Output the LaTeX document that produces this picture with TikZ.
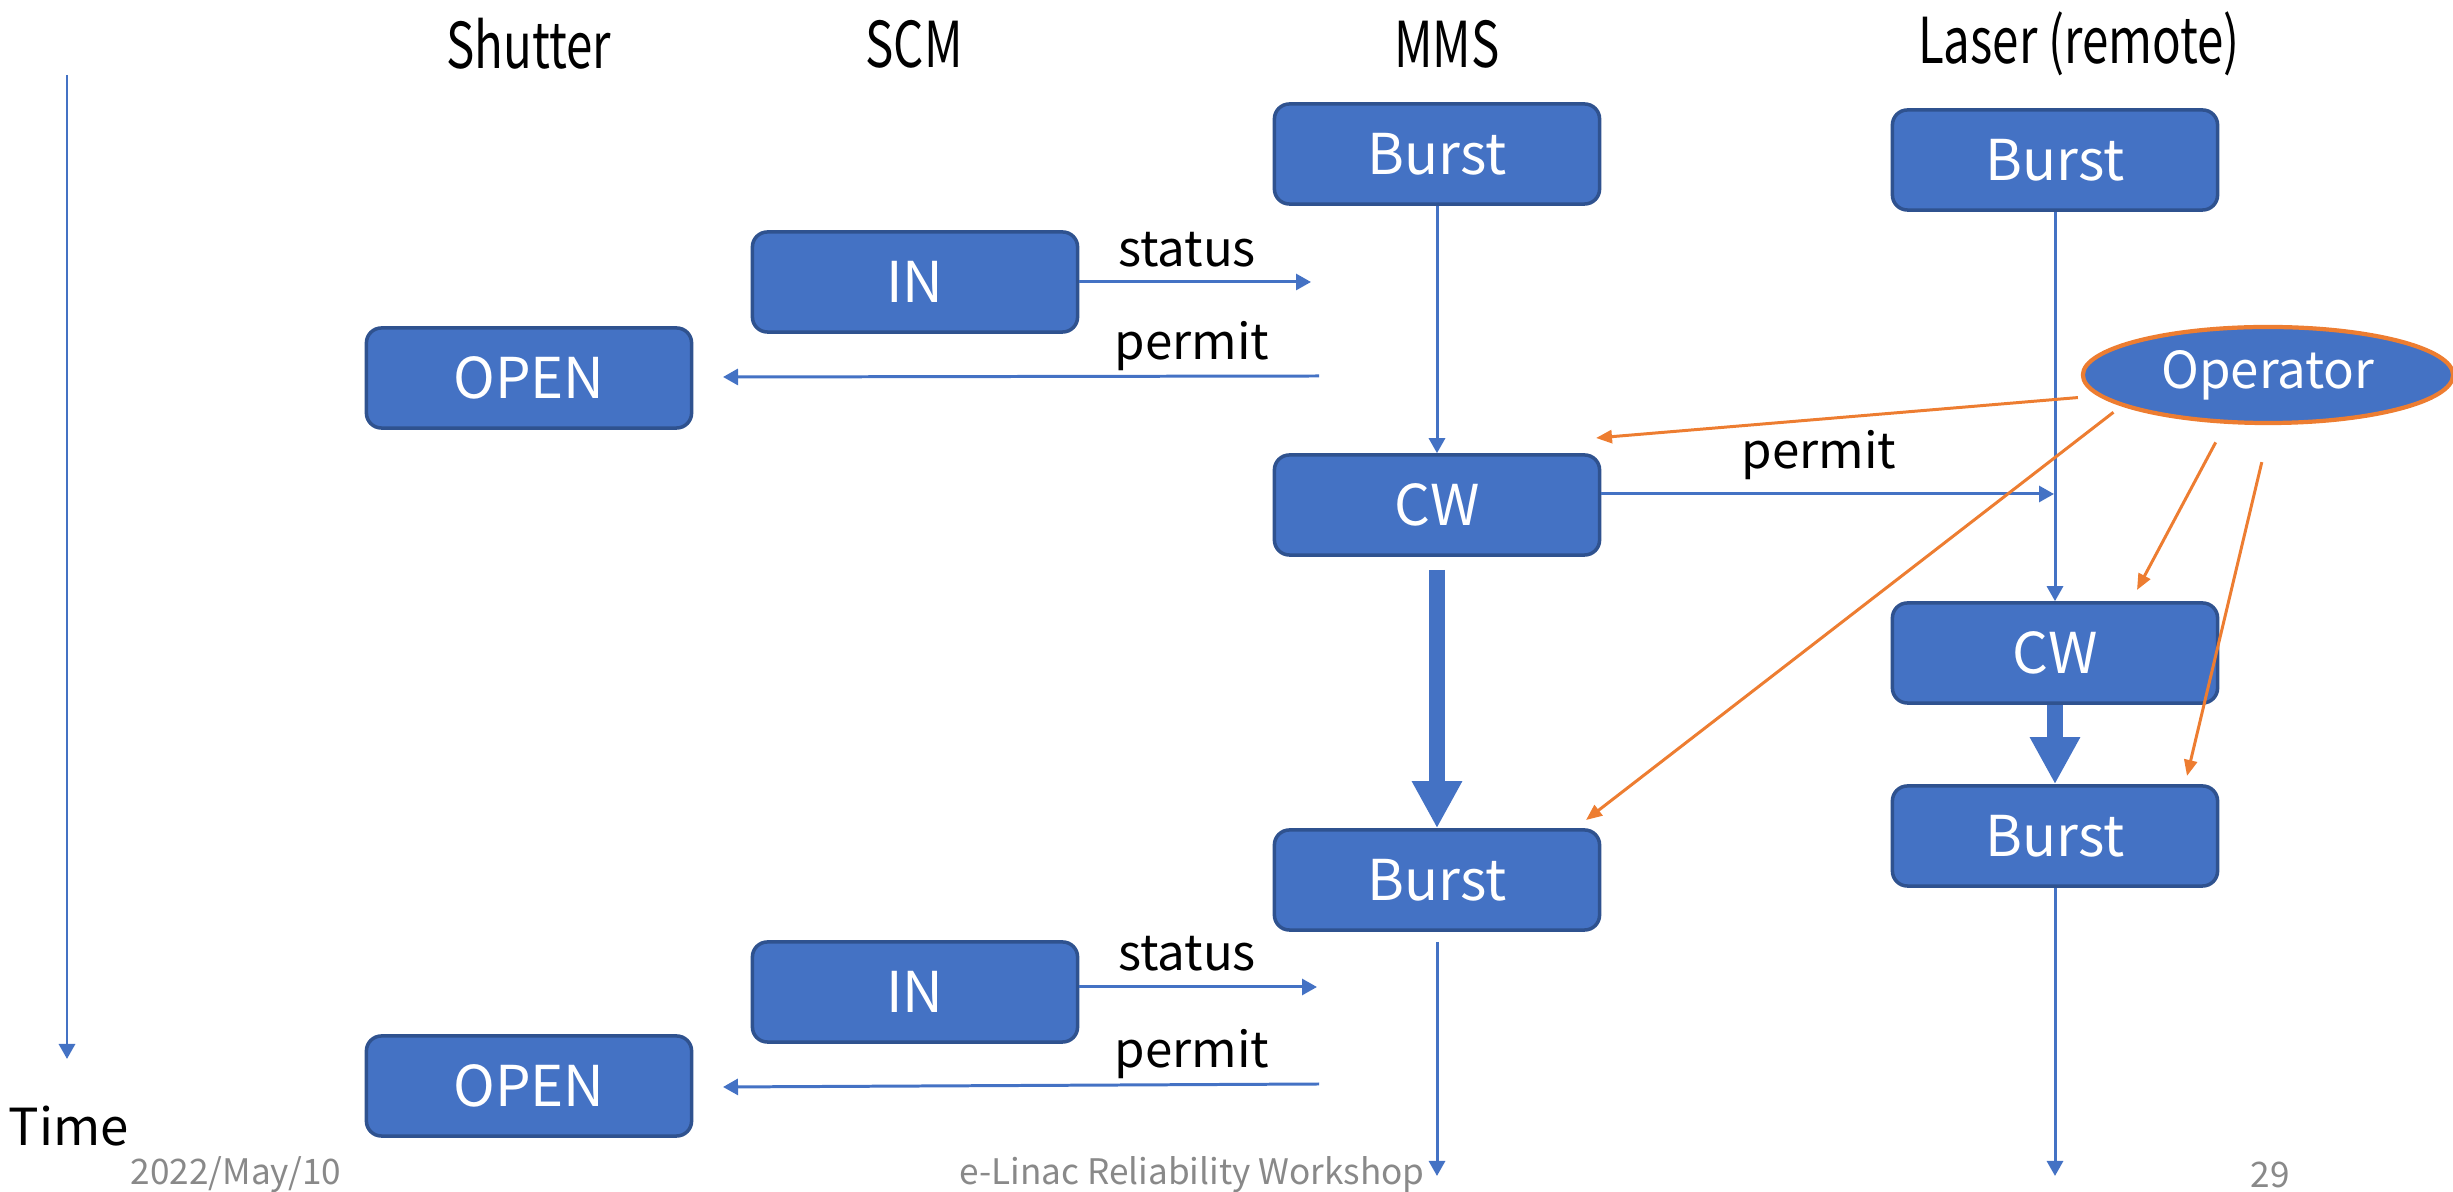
\documentclass[tikz,border=0pt]{standalone}
\usepackage{fontspec}
\setmainfont{Noto Sans CJK JP}
\usetikzlibrary{arrows.meta,shapes.geometric}
\definecolor{boxblue}{HTML}{4472C4}
\definecolor{boxedge}{HTML}{2F528F}
\definecolor{opline}{HTML}{ED7D31}
\definecolor{footgray}{HTML}{898989}
% narrow header lettering
\newcommand{\narrow}[1]{\scalebox{0.75}[1]{#1}}
\begin{document}
\begin{tikzpicture}[x=0.01cm, y=-0.01cm,
  state/.style={rectangle, draw=boxedge, line width=1pt, fill=boxblue,
                rounded corners=0.15cm, minimum width=3.25cm, minimum height=1cm,
                text=white, font=\fontsize{16}{18}\selectfont},
  oper/.style={ellipse, draw=opline, line width=1.2pt, fill=boxblue, inner sep=0pt,
               minimum width=3.7cm, minimum height=0.96cm,
               text=white, font=\fontsize{14.5}{17}\selectfont},
  head/.style={font=\fontsize{18}{20}\selectfont},
  lbl/.style={font=\fontsize{14}{17}\selectfont},
  foot/.style={text=footgray, font=\fontsize{10}{12}\selectfont},
  arr/.style={-{Triangle[length=0.15cm, width=0.16cm]}, line width=0.85pt, boxblue},
  oparr/.style={-{Triangle[length=0.16cm, width=0.13cm]}, line width=0.85pt, opline},
  fat/.style={-{Triangle[length=0.47cm, width=0.47cm]}, line width=0.16cm, boxblue}
]
  \useasboundingbox (0,0) rectangle (2453,1192);

  % column headers
  \foreach \n/\x/\t in {hsh/529/Shutter, hscm/914/SCM, hmms/1447/MMS, hlas/2079/Laser (remote)}
    \node[head] (\n) at (\x,44) {\narrow{\t}};

  % time axis
  \coordinate (t0) at (67,75);
  \coordinate (t1) at (67,1059);
  \draw[arr] (t0) -- (t1);
  \node[lbl, font=\fontsize{14.5}{17}\selectfont] (time) at (69,1126) {Time};

  % MMS
  \node[state] (burstA) at (1437,154) {Burst};
  \node[state] (cwA)    at (1437,505) {CW};
  \node[state] (burstB) at (1437,880) {Burst};
  \draw[arr] (burstA) -- (cwA);
  \draw[fat, shorten <=0.13cm] (cwA) -- (burstB);

  % laser (remote)
  \node[state] (lburstA) at (2055,160) {Burst};
  \node[state] (lcw)     at (2055,653) {CW};
  \node[state] (lburstB) at (2055,836) {Burst};
  \draw[arr] (lburstA) -- (lcw);
  \draw[fat] (lcw) -- (lburstB);

  % SCM / shutter, first pass
  \node[state] (inA)   at (915,282)  {IN};
  \node[state] (openA) at (529,378)  {OPEN};
  \coordinate (stA) at (1311,282);
  \coordinate (pmA0) at (1319,376);
  \coordinate (pmA1) at (723,377);
  \draw[arr] (inA) -- (stA);
  \draw[arr] (pmA0) -- (pmA1);
  \node[lbl] (lstA) at (1187,250) {status};
  \node[lbl] (lpmA) at (1192,346) {permit};

  % CW permit to laser
  \coordinate (pmL) at (2054,494);
  \draw[arr] (cwA.east |- pmL) -- (pmL);
  \node[lbl] (lpmL) at (1819,455) {permit};

  % SCM / shutter, second pass
  \node[state] (inB)   at (915,992)  {IN};
  \node[state] (openB) at (529,1086) {OPEN};
  \coordinate (stB) at (1317,987);
  \coordinate (pmB0) at (1319,1084);
  \coordinate (pmB1) at (723,1087);
  \draw[arr] (inB.east |- stB) -- (stB);
  \draw[arr] (pmB0) -- (pmB1);
  \node[lbl] (lstB) at (1187,954) {status};
  \node[lbl] (lpmB) at (1192,1054) {permit};

  % runs past the second burst
  \coordinate (mEnd) at (1437,1176);
  \coordinate (lEnd) at (2055,1176);
  \draw[arr] (burstB.south |- 0,942) -- (mEnd);
  \draw[arr] (lburstB) -- (lEnd);

  % operator
  \node[oper] (op) at (2268,375) {Operator};
  \coordinate (o1) at (1596,438);
  \coordinate (o2) at (1586,820);
  \coordinate (o3) at (2137,590);
  \coordinate (o4) at (2187,776);
  \draw[oparr, shorten <=0.2cm]  (op.187) -- (o1);
  \draw[oparr, shorten <=0.1cm]  (op.192) -- (o2);
  \draw[oparr, shorten <=0.21cm] (op.229) -- (o3);
  \draw[oparr, shorten <=0.38cm] (op.273.5) -- (o4);

  % footer
  \node[foot] (fdate) at (236,1175) {2022/May/10};
  \node[foot] (fname) at (1192,1175) {e-Linac Reliability Workshop};
  \node[foot] (fpage) at (2270,1175) {29};
\end{tikzpicture}
\end{document}
